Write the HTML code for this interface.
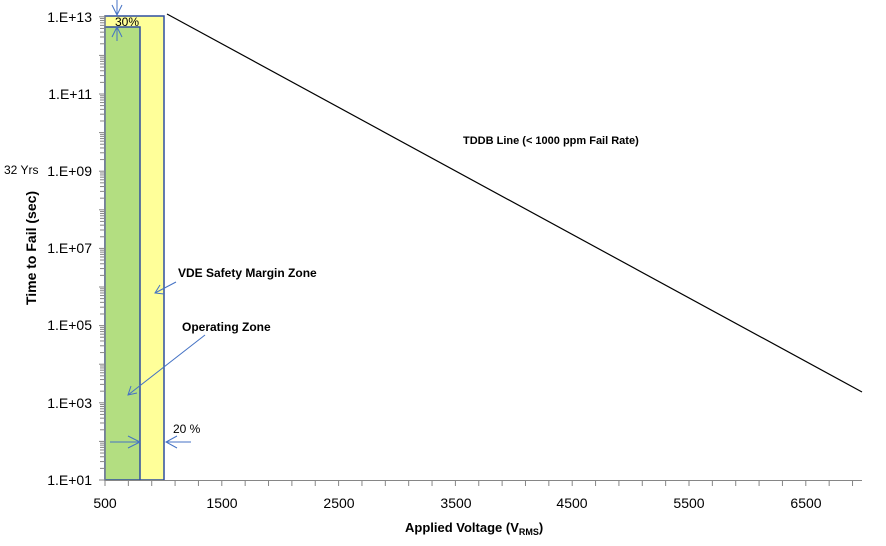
<!DOCTYPE html>
<html><head><meta charset="utf-8"><style>
body{margin:0;background:#fff;}
svg{display:block;font-family:"Liberation Sans",Calibri,sans-serif;}
</style></head><body>
<svg width="886" height="546" viewBox="0 0 886 546">
<rect x="105" y="16" width="59" height="464" fill="#ffff99" stroke="#2f4f9f" stroke-width="1.5"/>
<rect x="105" y="27" width="35" height="453" fill="#b3de81" stroke="#2f4f9f" stroke-width="1.5"/>
<g stroke="#868686" stroke-width="1">
<line x1="105" y1="15" x2="105" y2="481"/>
<line x1="105" y1="480.5" x2="862" y2="480.5"/>
</g>
<g id="ticks" stroke="#868686" stroke-width="1"></g>
<polyline points="167,14 862,392" fill="none" stroke="#000" stroke-width="1.2"/>
<g font-size="14" fill="#000" text-anchor="end">
<text x="92" y="22">1.E+13</text>
<text x="92" y="99">1.E+11</text>
<text x="92" y="176">1.E+09</text>
<text x="92" y="253">1.E+07</text>
<text x="92" y="330">1.E+05</text>
<text x="92" y="408">1.E+03</text>
<text x="92" y="485">1.E+01</text>
</g>
<g font-size="14" fill="#000" text-anchor="middle">
<text x="105" y="508">500</text>
<text x="222" y="508">1500</text>
<text x="339" y="508">2500</text>
<text x="456" y="508">3500</text>
<text x="572" y="508">4500</text>
<text x="689" y="508">5500</text>
<text x="806" y="508">6500</text>
</g>
<text x="405" y="532" font-size="13" font-weight="bold">Applied Voltage (V<tspan font-size="9" dy="3">RMS</tspan><tspan dy="-3">)</tspan></text>
<text transform="translate(36,248) rotate(-90)" font-size="14" font-weight="bold" text-anchor="middle">Time to Fail (sec)</text>
<text x="4" y="174" font-size="12">32 Yrs</text>
<text x="115" y="26" font-size="12">30%</text>
<text x="173" y="433" font-size="12">20 %</text>
<text x="463" y="144" font-size="11" font-weight="bold">TDDB Line (&lt; 1000 ppm Fail Rate)</text>
<text x="178" y="277" font-size="12" font-weight="bold">VDE Safety Margin Zone</text>
<text x="182" y="331" font-size="12" font-weight="bold">Operating  Zone</text>
<g stroke="#4472c4" stroke-width="1" fill="none">
<line x1="117" y1="0" x2="117" y2="15"/><polyline points="112,5 117,15 122,5"/>
<line x1="117" y1="27" x2="117" y2="41"/><polyline points="112,37 117,27 122,37"/>
<line x1="110" y1="442" x2="140" y2="442"/><polyline points="128,436 140,442 128,448"/>
<line x1="166" y1="442" x2="191" y2="442"/><polyline points="177,436 166,442 177,448"/>
<line x1="176" y1="282" x2="155" y2="293"/><polyline points="160,285 155,293 164,294"/>
<line x1="205" y1="335" x2="128" y2="395"/><polyline points="131,386 128,395 137,393"/>
</g>
</svg>
<script>
var g=document.getElementById('ticks'),s='';
for(var v=500;v<=7000;v+=200){var x=105+(v-500)*0.1168;s+='<line x1="'+x+'" y1="480" x2="'+x+'" y2="486"/>';}
for(var d=1;d<13;d++){for(var k=1;k<10;k++){var y=480-(d-1+Math.log10(k))*38.6;s+='<line x1="'+(k==1?99:100)+'" y1="'+y+'" x2="105" y2="'+y+'"/>';}}
s+='<line x1="99" y1="16.8" x2="105" y2="16.8"/>';
g.innerHTML=s;
</script>
</body></html>
